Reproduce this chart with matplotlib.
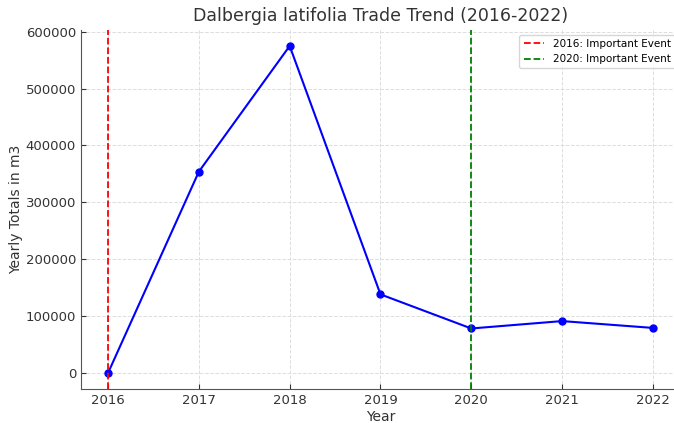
import matplotlib.pyplot as plt

# Yearly totals
years = [2016, 2017, 2018, 2019, 2020, 2021, 2022]
totals = [0, 354000, 575000, 138000, 78000, 91000, 79000]

event_years = [2016, 2020]
event_colors = ['red', 'green']
event_labels = ['2016: Important Event', '2020: Important Event']

plt.rcParams['font.family'] = 'DejaVu Sans'
fig, ax = plt.subplots(figsize=(6.74, 4.23), dpi=100)

ax.plot(years, totals, color='blue', marker='o', markersize=5, linewidth=1.5)
for yr, col, lab in zip(event_years, event_colors, event_labels):
    ax.axvline(yr, color=col, linestyle='--', linewidth=1.3, label=lab)

ax.set_title('Dalbergia latifolia Trade Trend (2016-2022)', fontsize=12.5, color='#333333')
ax.set_xlabel('Year', fontsize=10, color='#333333', labelpad=2)
ax.set_ylabel('Yearly Totals in m3', fontsize=10, color='#333333', labelpad=2)
ax.set_xticks(years)
ax.tick_params(direction='in', colors='#333333', labelsize=9.5)
ax.grid(True, linestyle='--', color='#dddddd', linewidth=0.7)
for s in ['top', 'right']:
    ax.spines[s].set_visible(False)
for s in ['left', 'bottom']:
    ax.spines[s].set_color('#555555')
ax.legend(loc='upper right', fontsize=7.5)

# the reference image is cropped on the right, so the axes run past the edge
plt.subplots_adjust(left=0.12, right=1.009, top=0.93, bottom=0.08)
plt.savefig('out.png')
